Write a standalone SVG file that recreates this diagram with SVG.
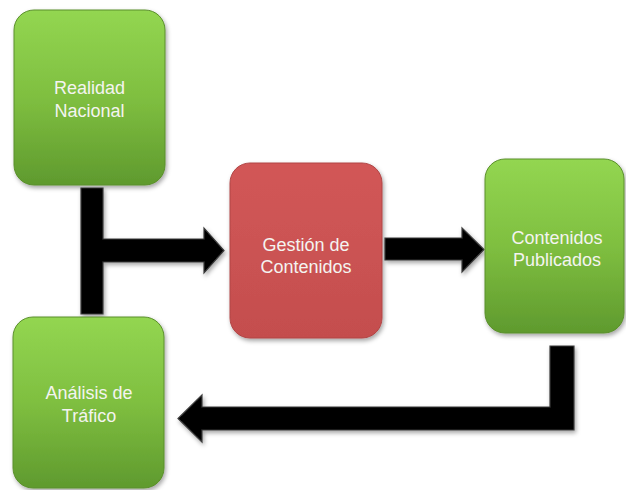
<svg xmlns="http://www.w3.org/2000/svg" width="626" height="490" viewBox="0 0 626 490">
  <defs>
    <linearGradient id="gGreen" x1="0" y1="0" x2="0" y2="1">
      <stop offset="0" stop-color="#93d651"/>
      <stop offset="0.5" stop-color="#7fbf40"/>
      <stop offset="1" stop-color="#5f9a2e"/>
    </linearGradient>
    <linearGradient id="gRed" x1="0" y1="0" x2="0" y2="1">
      <stop offset="0" stop-color="#d25757"/>
      <stop offset="1" stop-color="#c44e4e"/>
    </linearGradient>
    <filter id="shadow" x="-10%" y="-10%" width="125%" height="125%">
      <feDropShadow dx="1.5" dy="2.5" stdDeviation="2" flood-color="#000" flood-opacity="0.35"/>
    </filter>
  </defs>
  <style>
    .green { fill: url(#gGreen); stroke: #5a8f2c; stroke-width: 1; filter: url(#shadow); }
    .red { fill: url(#gRed); stroke: #b04646; stroke-width: 1; filter: url(#shadow); }
    .arrow { fill: #000; stroke: #3c3c3c; stroke-width: 1.2; stroke-linejoin: miter; filter: url(#shadow); }
    .label { font-family: "Liberation Sans", Arial, sans-serif; font-size: 18px; fill: #f4f4f0; text-anchor: middle; }
  </style>
  <rect width="626" height="490" fill="#ffffff"/>

  <g id="connectors">
    <path class="arrow" d="M81,188 H103 V239 H204 V228 L224,250.5 L204,273 V262 H103 V314 H81 Z"/>
    <path class="arrow" d="M385,238 H462 V228 L484,249.5 L462,272 V260 H385 Z"/>
    <path class="arrow" d="M550,346 H574 V430 H202 V442 L178,418.5 L202,395 V407 H550 Z"/>
  </g>

  <g id="realidad-nacional">
    <rect class="green" x="14" y="10" width="151" height="175" rx="20"/>
    <text class="label" x="89.5" y="94">Realidad</text>
    <text class="label" x="89.5" y="117">Nacional</text>
  </g>

  <g id="gestion-contenidos">
    <rect class="red" x="230" y="163" width="152" height="175" rx="20"/>
    <text class="label" x="306" y="251">Gestión de</text>
    <text class="label" x="306" y="273">Contenidos</text>
  </g>

  <g id="contenidos-publicados">
    <rect class="green" x="485" y="159" width="139" height="174" rx="20"/>
    <text class="label" x="557" y="244">Contenidos</text>
    <text class="label" x="557" y="266">Publicados</text>
  </g>

  <g id="analisis-trafico">
    <rect class="green" x="13" y="317" width="151" height="171" rx="20"/>
    <text class="label" x="89" y="399">Análisis de</text>
    <text class="label" x="89" y="422">Tráfico</text>
  </g>
</svg>
